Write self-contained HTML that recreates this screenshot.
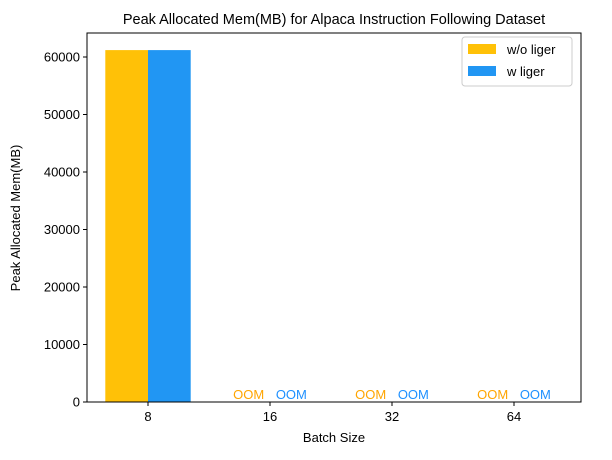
<!DOCTYPE html>
<html><head><meta charset="utf-8"><style>
body{margin:0;background:#fff;}
svg text{font-family:"Liberation Sans",sans-serif;}
</style></head><body>
<svg id="chart" width="612" height="455" xmlns="http://www.w3.org/2000/svg">
<rect width="612" height="455" fill="#fff"/>
<text x="334" y="24" font-size="14.5" text-anchor="middle">Peak Allocated Mem(MB) for Alpaca Instruction Following Dataset</text>
<g id="plot"></g>
<rect x="87" y="33" width="494" height="369" fill="none" stroke="#000" stroke-width="1"/>
<text x="334" y="442" font-size="13" text-anchor="middle">Batch Size</text>
<text transform="translate(20,218) rotate(-90)" font-size="13" text-anchor="middle">Peak Allocated Mem(MB)</text>
<g>
<rect x="462" y="37" width="110" height="49" rx="3" fill="#fff" stroke="#ccc"/>
<rect x="468" y="44" width="28" height="10" fill="#FFC107"/>
<text x="507" y="54" font-size="13">w/o liger</text>
<rect x="468" y="66" width="28" height="10" fill="#2196F3"/>
<text x="507" y="76" font-size="13">w liger</text>
</g>
</svg>
<script>
const categories = ["8","16","32","64"];
const withoutLiger = [61200, null, null, null];
const withLiger = [61200, null, null, null];
const yTicks = [0,10000,20000,30000,40000,50000,60000];
const seriesNames = ["w/o liger","w liger"];

const NS="http://www.w3.org/2000/svg";
const g=document.getElementById('plot');
const x0=148, step=122, bw=42.7;
const yBase=402, yScale=(402-57)/60000;
function xPos(i){return x0+i*step;}
function yPos(v){return yBase-v*yScale;}
function mk(tag,attrs){const e=document.createElementNS(NS,tag);for(const k in attrs)e.setAttribute(k,attrs[k]);g.appendChild(e);return e;}
yTicks.forEach(t=>{
  const y=yPos(t);
  const l=mk('line',{x1:83,x2:87,y1:y,y2:y,stroke:'#000'});
  
  
  const tx=mk('text',{x:80,y:y+4.5,'font-size':13,'text-anchor':'end'});
  tx.textContent=t;
  
  
});
categories.forEach((c,i)=>{
  const x=xPos(i);
  const l=mk('line',{x1:x,x2:x,y1:402,y2:406,stroke:'#000'});
  
  
  const tx=mk('text',{x:x,y:421,'font-size':13,'text-anchor':'middle'});
  tx.textContent=c;
  
  
  [[withoutLiger,'#FFC107','#FFA500',-1],[withLiger,'#2196F3','#1E90FF',0]].forEach(([arr,col,oom,off],s)=>{
    const v=arr[i];
    const bx=x+off*bw;
    if(v!=null){
      const r=mk('rect',{x:bx,y:yPos(v),width:bw,height:yBase-yPos(v),fill:col});
      
      
    } else {
      const t=mk('text',{x:bx+bw/2,y:399,'font-size':13,'text-anchor':'middle',fill:oom});
      t.textContent='OOM';
      
      
    }
  });
});
</script>
</body></html>
